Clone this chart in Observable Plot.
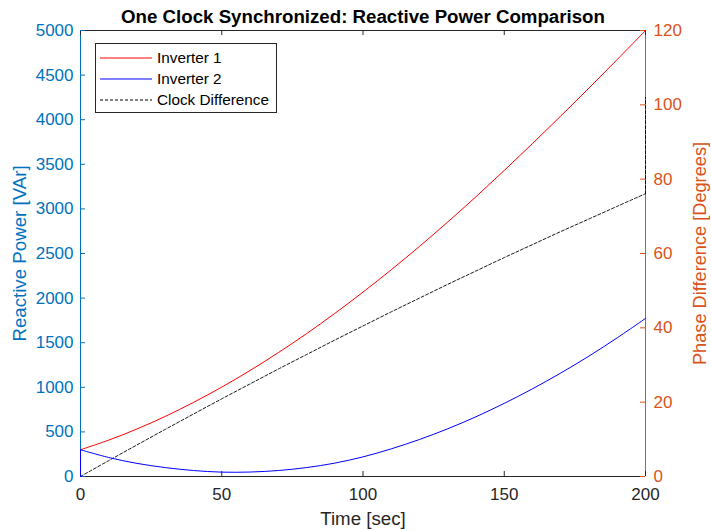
<!DOCTYPE html>
<html><head><meta charset="utf-8">
<script src="https://cdn.jsdelivr.net/npm/d3@7"></script>
<script src="https://cdn.jsdelivr.net/npm/@observablehq/plot@0.6"></script>
<style>
body{margin:0;background:#fff;font-family:"Liberation Sans",Arial,sans-serif;}
#wrap{position:relative;width:711px;height:531px;}
#legend{position:absolute;left:95px;top:43px;width:182px;height:70px;border:1px solid #262626;background:#fff;box-sizing:border-box;}
#legend svg{display:block}
</style></head><body><div id="wrap"><div id="chart"></div><div id="legend"></div></div>
<script>
// Data
const timeInv = [0,0,10,20,30,40,50,60,70,80,90,100,110,120,130,140,150,160,170,180,190,200];
const inverter1 = [0,300,408,533,674,831,1002,1188,1388,1601,1828,2067,2318,2580,2853,3137,3431,3733,4041,4355,4675,5000];
const inverter2 = [0,300,213,147,100,67,49,50,67,100,150,220,310,415,535,670,820,983,1160,1350,1555,1772];
const timeClock = [0,10,20,30,40,50,60,70,80,90,100,110,120,130,140,150,160,170,180,190,200,200];
const clockDiff = [0,4.28,8.5,12.68,16.8,20.9,24.9,28.9,32.8,36.7,40.5,44.3,48.0,51.7,55.3,58.9,62.4,65.9,69.3,72.7,76.1,102];
const xTicks = [0,50,100,150,200];
const leftTicks = [0,500,1000,1500,2000,2500,3000,3500,4000,4500,5000];
const rightTicks = [0,20,40,60,80,100,120];
const seriesNames = ["Inverter 1","Inverter 2","Clock Difference"];
const seriesColors = ["#FF0000","#0000FF","#000000"];
const seriesDash = [null,null,"3,2"];
const titleText = "One Clock Synchronized: Reactive Power Comparison";
const xLabel = "Time [sec]";
const yLeftLabel = "Reactive Power [VAr]";
const yRightLabel = "Phase Difference [Degrees]";

const W=711,H=531,mL=80,mR=66,mT=30,mB=55;
const plotW=W-mL-mR, plotH=H-mT-mB;
const leftMax=5000, rightMax=120;
const toLeft = d => d*leftMax/rightMax;
const BLUE="#0072BD", ORANGE="#D95319", DARK="#262626";
const base=17;

const inv1 = timeInv.map((t,i)=>({t, v:inverter1[i]}));
const inv2 = timeInv.map((t,i)=>({t, v:inverter2[i]}));
const clk = timeClock.map((t,i)=>({t, v:toLeft(clockDiff[i])}));
// smooth body + straight jump segments
const inv1Body = inv1.slice(1), inv1Jump = inv1.slice(0,2);
const inv2Body = inv2.slice(1), inv2Jump = inv2.slice(0,2);
const clkBody = clk.slice(0,-1), clkJump = clk.slice(-2);

const chart = Plot.plot({
  width:W, height:H, marginLeft:mL, marginRight:mR, marginTop:mT, marginBottom:mB,
  style:{fontFamily:'"Liberation Sans",Arial,sans-serif', background:"#fff", overflow:"visible"},
  x:{domain:[0,200], axis:null},
  y:{domain:[0,leftMax], axis:null},
  marks:[
    Plot.ruleY([0],{stroke:DARK}),
    Plot.ruleY([leftMax],{stroke:DARK}),
    Plot.ruleX([0],{stroke:BLUE}),
    Plot.ruleX([200],{stroke:ORANGE}),
    Plot.tickX(xTicks,{x:d=>d,stroke:DARK,insetTop:plotH-5}),
    Plot.tickX(xTicks,{x:d=>d,stroke:DARK,insetBottom:plotH-5}),
    Plot.tickY(leftTicks,{y:d=>d,stroke:BLUE,insetRight:plotW-5}),
    Plot.tickY(rightTicks,{y:d=>toLeft(d),stroke:ORANGE,insetLeft:plotW-5}),
    Plot.line(clkBody,{x:"t",y:"v",stroke:seriesColors[2],strokeWidth:0.9,strokeDasharray:seriesDash[2],curve:"catmull-rom"}),
    Plot.line(clkJump,{x:"t",y:"v",stroke:seriesColors[2],strokeWidth:0.9,strokeDasharray:seriesDash[2]}),
    Plot.line(inv1Body,{x:"t",y:"v",stroke:seriesColors[0],strokeWidth:1,curve:"catmull-rom"}),
    Plot.line(inv1Jump,{x:"t",y:"v",stroke:seriesColors[0],strokeWidth:1}),
    Plot.line(inv2Body,{x:"t",y:"v",stroke:seriesColors[1],strokeWidth:1,curve:"catmull-rom"}),
    Plot.line(inv2Jump,{x:"t",y:"v",stroke:seriesColors[1],strokeWidth:1}),
    Plot.axisX({ticks:xTicks,tickSize:0,tickPadding:11,fontSize:base,color:DARK,label:null,tickFormat:d=>String(d)}),
    Plot.axisY({ticks:leftTicks,anchor:"left",tickSize:0,tickPadding:7,fontSize:base,color:BLUE,label:null,tickFormat:d=>String(d)}),
    Plot.axisY({ticks:rightTicks.map(toLeft),anchor:"right",tickSize:0,tickPadding:8,fontSize:base,color:ORANGE,label:null,tickFormat:v=>String(Math.round(v*rightMax/leftMax))}),
    Plot.text([titleText],{frameAnchor:"top",dy:-13,lineAnchor:"middle",fontWeight:"bold",fontSize:18.7,fill:"#000",textAnchor:"middle"}),
    Plot.text([xLabel],{frameAnchor:"bottom",dy:43,lineAnchor:"middle",fontSize:18.7,fill:DARK,textAnchor:"middle"}),
    Plot.text([yLeftLabel],{frameAnchor:"left",dx:-60,lineAnchor:"middle",rotate:-90,fontSize:18.7,fill:BLUE,textAnchor:"middle"}),
    Plot.text([yRightLabel],{frameAnchor:"right",dx:55,lineAnchor:"middle",rotate:-90,fontSize:18.2,fill:ORANGE,textAnchor:"middle"})
  ]
});
document.getElementById("chart").appendChild(chart);

// Legend
const lg = d3.select("#legend").append("svg").attr("width",180).attr("height",68);
seriesNames.forEach((name,i)=>{
  const y = 14 + i*21;
  lg.append("line").attr("x1",4).attr("x2",56).attr("y1",y).attr("y2",y)
    .attr("stroke",seriesColors[i]).attr("stroke-width",1)
    .attr("stroke-dasharray",seriesDash[i]);
  lg.append("text").attr("x",61).attr("y",y).attr("dy","0.35em")
    .attr("font-size",15.3).attr("fill","#000")
    .attr("font-family",'"Liberation Sans",Arial,sans-serif').text(name);
});
</script>
</body></html>
